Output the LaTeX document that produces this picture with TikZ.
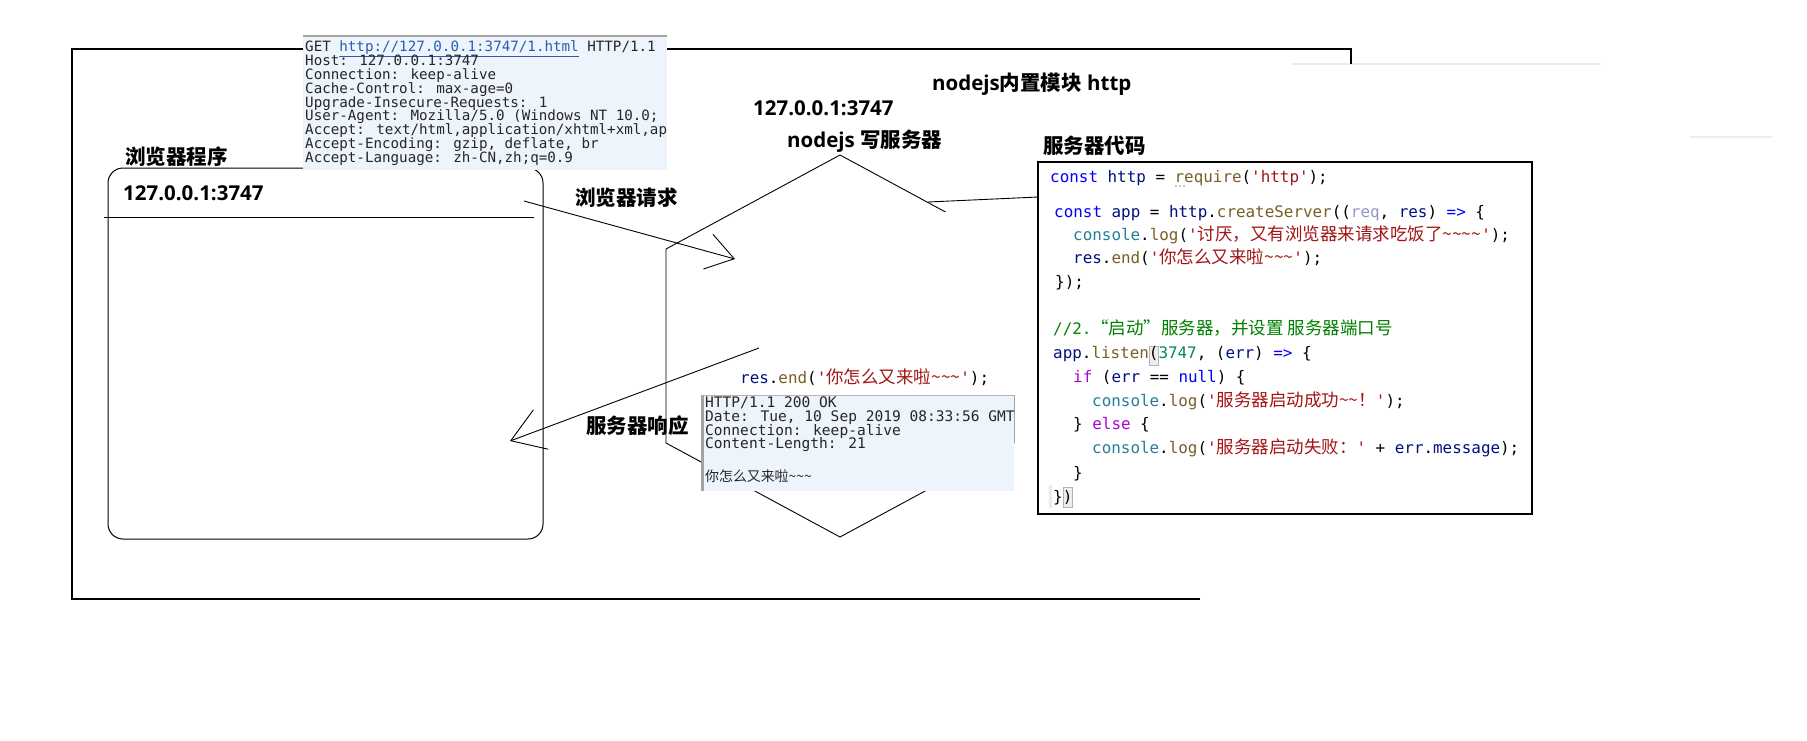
\documentclass[tikz,border=0pt]{standalone}
\usepackage{fontspec}
\setmainfont{Open Sans}
\newfontfamily\cjkfont{Noto Sans CJK SC}
\newfontfamily\zhcode[Scale=1.1]{Noto Sans CJK SC}
\newfontfamily\jsmono{DejaVu Sans Mono}
\usepackage{xcolor}
\usepackage{tikz}
\usetikzlibrary{arrows.meta,positioning}
\definecolor{reqblue}{HTML}{EDF4FC}
\definecolor{hdrgrey}{HTML}{A4A4A4}
\definecolor{linkblue}{HTML}{2B5CB0}
\definecolor{jskwc}{HTML}{0000FF}
\definecolor{jsvarc}{HTML}{001080}
\definecolor{jsfnc}{HTML}{795E26}
\definecolor{jsstrc}{HTML}{A31515}
\definecolor{jsclsc}{HTML}{267F99}
\definecolor{jsnumc}{HTML}{098658}
\definecolor{jscmtc}{HTML}{008000}
\definecolor{jsctlc}{HTML}{AF00DB}
\definecolor{jsdimc}{HTML}{9199C4}
\newcommand{\jskw}[1]{\textcolor{jskwc}{#1}}
\newcommand{\jsvar}[1]{\textcolor{jsvarc}{#1}}
\newcommand{\jsfn}[1]{\textcolor{jsfnc}{#1}}
\newcommand{\jsstr}[1]{\textcolor{jsstrc}{#1}}
\newcommand{\jscls}[1]{\textcolor{jsclsc}{#1}}
\newcommand{\jsnum}[1]{\textcolor{jsnumc}{#1}}
\newcommand{\jscmt}[1]{\textcolor{jscmtc}{#1}}
\newcommand{\jsctl}[1]{\textcolor{jsctlc}{#1}}
\newcommand{\jsdim}[1]{\textcolor{jsdimc}{#1}}
\newcommand{\zh}[1]{{\zhcode #1}}
\newcommand{\tld}{\textasciitilde}
\newcommand{\sq}{\textquotesingle}
\newcommand{\codefont}{\jsmono\fontsize{15.9pt}{20pt}\selectfont}
\newcommand{\hdrfont}{\jsmono\fontsize{14.2pt}{14pt}\selectfont}
\newcommand{\lblfont}{\bfseries\fontsize{20.5pt}{24pt}\selectfont}
\tikzset{
  frameline/.style={line width=1.3pt},
  browserbox/.style={draw, line width=1pt, rounded corners=15pt, inner sep=0pt},
  codebox/.style={draw, line width=1.3pt, fill=white, inner sep=0pt},
  bluebox/.style={fill=reqblue, inner sep=0pt, anchor=north west},
  hexline/.style={line width=0.9pt},
  reqarrow/.style={line width=0.9pt, -{Straight Barb[length=27pt,width=36pt,line width=0.9pt]}},
  resparrow/.style={line width=0.9pt, -{Straight Barb[length=32pt,width=42pt,line width=0.9pt]}},
  lbl/.style={anchor=west, inner sep=0pt, text height=16pt, text depth=1pt, font=\lblfont},
  hdrln/.style={anchor=west, inner sep=0pt, text height=11pt, text depth=2pt, font=\hdrfont, text=black!85},
  codeln/.style={anchor=west, inner sep=0pt, text height=13pt, text depth=3pt, font=\codefont},
  matchbox/.style={fill=black!7, draw=black!30, line width=0.6pt},
}
\begin{document}
\begin{tikzpicture}[x=1pt,y=-1pt]
  \useasboundingbox (0,0) rectangle (1807,740);
  \fill[white] (0,0) rectangle (1807,740);
  \draw[black!7, line width=1.5pt] (1292,64) -- (1601,64);
  \draw[black!7, line width=1.5pt] (1690,137) -- (1772,137);
  \draw[frameline] (1200,599) -- (72,599) -- (72,49) -- (1351,49) -- (1351,64);

  \node[browserbox, minimum width=435pt, minimum height=371pt] (browser) at (325.5,353.5) {};
  \draw[line width=1pt] (104,217) -- (534,217);
  \node[lbl] (browserip) at (123,193) {127.0.0.1:3747};
  \node[lbl] (browsertitle) at (125,157) {\cjkfont 浏览器程序};

  \node[bluebox, minimum width=364pt, minimum height=133.5pt] (reqbox) at (303,36) {};
  \draw[hdrgrey, line width=2pt] (reqbox.north west) -- (reqbox.north east);
  \begin{scope}
    \clip (reqbox.north west) rectangle (reqbox.south east);
    \node[hdrln] (hdr0) at (305,47) {GET \textcolor{linkblue}{\underline{http://127.0.0.1:3747/1.html}} HTTP/1.1};
    \foreach \txt [count=\k] in {{Host: 127.0.0.1:3747},{Connection: keep-alive},{Cache-Control: max-age=0},{Upgrade-Insecure-Requests: 1},{User-Agent: Mozilla/5.0 (Windows NT 10.0;},{Accept: text/html,application/xhtml+xml,ap},{Accept-Encoding: gzip, deflate, br},{Accept-Language: zh-CN,zh;q=0.9}}
      \node[hdrln] (hdr\k) at (305,{47+13.875*\k}) {\txt};
  \end{scope}

  \coordinate (srvtop) at (840,155);
  \coordinate (srvhook) at (928,202);
  \draw[hexline] (srvtop) -- (1014,249) -- (1014,443) -- (840,537) -- (666,443) -- (666,249) -- cycle;

  \coordinate (reqfrom) at (524,201);
  \coordinate (reqto) at (735,259);
  \coordinate (respfrom) at (759,348);
  \coordinate (respto) at (510,441);
  \draw[reqarrow] (reqfrom) -- (reqto);
  \draw[resparrow] (respfrom) -- (respto);
  \node[lbl] (reqlabel) at (575,198) {\cjkfont 浏览器请求};
  \node[lbl] (resplabel) at (586,426) {\cjkfont 服务器响应};

  \node[fill=white, inner sep=0pt, anchor=north west, minimum width=263pt, minimum height=183pt] (snippet) at (759,212) {};
  \node[codeln] (snipline) at (740,378) {\jsvar{res}.\jsfn{end}(\jsstr{\sq\zh{你怎么又来啦\tld\tld\tld}\sq});};

  \node[bluebox, minimum width=313pt, minimum height=96pt] (respbox) at (701,395) {};
  \draw[hdrgrey!80, line width=1pt] (respbox.north west) -- (respbox.north east);
  \draw[hdrgrey, line width=3pt] ([xshift=1.5pt]respbox.north west) -- ([xshift=1.5pt]respbox.south west);
  \foreach \txt [count=\k] in {{HTTP/1.1 200 OK},{Date: Tue, 10 Sep 2019 08:33:56 GMT},{Connection: keep-alive},{Content-Length: 21}}
    \node[hdrln, font=\jsmono\fontsize{14.55pt}{14pt}\selectfont] (resp\k) at (705,{389.5+13.7*\k}) {\txt};
  \node[hdrln, font=\cjkfont\fontsize{13.9pt}{14pt}\selectfont] (respbody) at (705,477) {你怎么又来啦\tld\tld\tld};

  \node[lbl] (toplabel) at (932,83) {nodejs{\cjkfont 内置模块} http};
  \node[lbl] (serverip) at (753,108) {127.0.0.1:3747};
  \node[lbl] (serverlabel) at (787,140) {nodejs {\cjkfont 写服务器}};

  \node[codebox, minimum width=494pt, minimum height=352pt] (codebox) at (1285,338) {};
  \coordinate (codehook) at (1038,197);
  \draw[line width=0.9pt] (srvhook) -- (codehook);
  \node[lbl] (codelabel) at (1043,146) {\cjkfont 服务器代码};

  \foreach \d in {0,1,2}
    \fill[black!45] ({1176+4*\d},186) circle (0.8pt);
  \draw[matchbox] (1149,346) rectangle (1158,365);
  \draw[matchbox] (1063,487) rectangle (1072,507);
  \fill[black!8] (1049,485) rectangle (1052,508);

  \node[codeln] (c1) at (1050,177) {\jskw{const} \jsvar{http} = \jsfn{require}(\jsstr{\sq http\sq});};
  \node[codeln] (c2) at (1054,212) {\jskw{const} \jsvar{app} = \jsvar{http}.\jsfn{createServer}((\jsdim{req}, \jsvar{res}) \jskw{=>} \{};
  \node[codeln] (c3) at (1073,235) {\jscls{console}.\jsfn{log}(\jsstr{\sq\zh{讨厌，又有浏览器来请求吃饭了\tld\tld\tld\tld}\sq});};
  \node[codeln] (c4) at (1073,258) {\jsvar{res}.\jsfn{end}(\jsstr{\sq\zh{你怎么又来啦\tld\tld\tld}\sq});};
  \node[codeln] (c5) at (1055,282) {\});};
  \node[codeln] (c6) at (1053,329) {\jscmt{//2.\zh{“启动”服务器，并设置 服务器端口号}}};
  \node[codeln] (c7) at (1053,353) {\jsvar{app}.\jsfn{listen}(\jsnum{3747}, (\jsvar{err}) \jskw{=>} \{};
  \node[codeln] (c8) at (1073,377) {\jsctl{if} (\jsvar{err} == \jskw{null}) \{};
  \node[codeln] (c9) at (1092,401) {\jscls{console}.\jsfn{log}(\jsstr{\sq\zh{服务器启动成功\tld\tld！}\sq});};
  \node[codeln] (c10) at (1073,424) {\} \jsctl{else} \{};
  \node[codeln] (c11) at (1092,448) {\jscls{console}.\jsfn{log}(\jsstr{\sq\zh{服务器启动失败：}\sq} + \jsvar{err}.\jsvar{message});};
  \node[codeln] (c12) at (1073,473) {\}};
  \node[codeln] (c13) at (1053,497) {\})};
\end{tikzpicture}
\end{document}
